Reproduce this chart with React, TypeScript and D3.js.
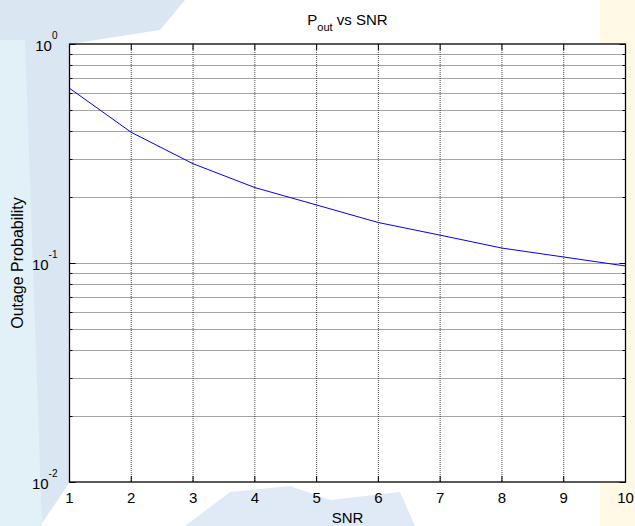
import React from "react";
import * as d3 from "d3";

// SNR values on x axis, outage probability
const snr = [1, 2, 3, 4, 5, 6, 7, 8, 9, 10];
const pout = [0.628, 0.395, 0.284, 0.221, 0.184, 0.153, 0.134, 0.117, 0.1065, 0.0969];
const xTicks = [1, 2, 3, 4, 5, 6, 7, 8, 9, 10];
const yDecades = [1, 0.1, 0.01];
const yExponents = ["0", "-1", "-2"];

const width = 635;
const height = 526;
const margin = { left: 69.5, right: 9.5, top: 44, bottom: 44 };

export default function App() {
  const x = d3.scaleLinear().domain([1, 10]).range([margin.left, width - margin.right]);
  const y = d3.scaleLog().domain([0.01, 1]).range([height - margin.bottom, margin.top]);
  const x0 = x.range()[0], x1 = x.range()[1];
  const y0 = y.range()[1], y1 = y.range()[0];

  // minor log ticks 2..9 in each decade
  let minor: number[] = [];
  [0.01, 0.1].forEach(d => {
    for (let m = 2; m <= 9; m++) minor.push(m * d);
  });

  let line = d3.line<number>()
    .x((d, i) => x(snr[i]))
    .y(d => y(d));

  // snap horizontal lines to half pixels so they stay crisp
  const py = (v: number) => Math.round(y(v)) + 0.5;

  const grid = { stroke: "#2a2a2a", strokeWidth: 1, strokeDasharray: "1 1", opacity: 0.85 };
  const font = "Liberation Sans, Arial, sans-serif";

  return (
    <svg width={width} height={height} style={{ position: "absolute", left: 0, top: 0 }} fontFamily={font}>
      {/* faint watermark of the page behind the figure */}
      <rect x={0} y={0} width={width} height={height} fill="#fff" />
      <polygon points="0,0 185,0 160,30 70,44 70,482 40,526 0,526" fill="#dbe6f3" />
      <polygon points="0,40 25,40 42,526 0,526" fill="#e2f1f8" />
      <polygon points="185,526 230,492 290,486 330,500 400,492 415,526" fill="#dfeaf6" />
      <rect x={600} y={0} width={35} height={height} fill="#fff9e6" />
      <rect x={x0} y={y0} width={x1 - x0} height={y1 - y0} fill="#fff" />

      {/* grid */}
      {xTicks.slice(1, -1).map(t => (
        <line key={"gx" + t} x1={x(t)} x2={x(t)} y1={y0} y2={y1} {...grid} />
      ))}
      {minor.concat([0.1]).map(t => (
        <line key={"gy" + t} x1={x0} x2={x1} y1={py(t)} y2={py(t)} {...grid} />
      ))}

      {/* ticks */}
      {xTicks.map(t => (
        <g key={"tx" + t} stroke="#000">
          <line x1={x(t)} x2={x(t)} y1={y1} y2={y1 - 6} />
          <line x1={x(t)} x2={x(t)} y1={y0} y2={y0 + 6} />
        </g>
      ))}
      {yDecades.map(t => (
        <g key={"ty" + t} stroke="#000">
          <line x1={x0} x2={x0 + 6} y1={py(t)} y2={py(t)} />
          <line x1={x1} x2={x1 - 6} y1={py(t)} y2={py(t)} />
        </g>
      ))}
      {minor.map(t => (
        <g key={"tm" + t} stroke="#000">
          <line x1={x0} x2={x0 + 3} y1={py(t)} y2={py(t)} />
          <line x1={x1} x2={x1 - 3} y1={py(t)} y2={py(t)} />
        </g>
      ))}

      {/* data */}
      <path d={line(pout) || ""} fill="none" stroke="#0000ff" strokeWidth={1} />

      {/* box */}
      <rect x={x0} y={y0} width={x1 - x0} height={y1 - y0} fill="none" stroke="#000" strokeWidth={1.3} />

      {/* tick labels */}
      {xTicks.map(t => (
        <text key={"lx" + t} x={x(t)} y={y1 + 21} textAnchor="middle" fontSize={15}>{t}</text>
      ))}
      {yDecades.map((t, i) => (
        <text key={"ly" + t} x={x0 - 12} y={y(t) + 7} textAnchor="end" fontSize={15}>
          10<tspan dy={-12} fontSize={10}>{yExponents[i]}</tspan>
        </text>
      ))}

      {/* labels */}
      <text x={(x0 + x1) / 2} y={25} textAnchor="middle" fontSize={15}>
        P<tspan dy={6} fontSize={11}>out</tspan><tspan dy={-6}> vs SNR</tspan>
      </text>
      <text x={(x0 + x1) / 2} y={523} textAnchor="middle" fontSize={15}>SNR</text>
      <text transform={`translate(23,${(y0 + y1) / 2}) rotate(-90)`} textAnchor="middle" fontSize={16}>Outage Probability</text>
    </svg>
  );
}
